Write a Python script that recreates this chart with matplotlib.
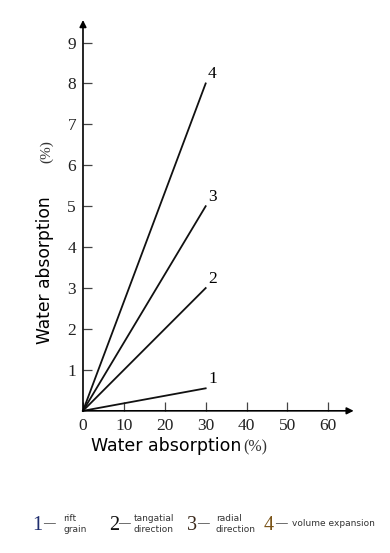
import matplotlib.pyplot as plt

# Data: straight lines from origin, end at 30 %
curve_ids = ["1", "2", "3", "4"]
x_pts = [0, 30]
y_end = [0.55, 3.0, 5.0, 8.0]

x_ticks = [0, 10, 20, 30, 40, 50, 60]
y_ticks = [1, 2, 3, 4, 5, 6, 7, 8, 9]

legend_nums = ["1", "2", "3", "4"]
legend_desc = ["rift\ngrain", "tangatial\ndirection", "radial\ndirection", "volume expansion"]
legend_cols = ["#1f2d6e", "#111111", "#3b2a1c", "#7a5418"]

SERIF = "Liberation Serif"
SANS = "DejaVu Sans"


def main():
    fig = plt.figure(figsize=(3.9, 5.53), dpi=100)
    ax = fig.add_axes([0.2128, 0.2571, 0.692, 0.703])
    ax.set_xlim(0, 66)
    ax.set_ylim(0, 9.5)

    for s in ax.spines.values():
        s.set_visible(False)

    # axes drawn as arrows
    ax.annotate("", xy=(66.2, 0), xytext=(0, 0), annotation_clip=False,
                arrowprops=dict(arrowstyle="-|>", lw=1.2, color="black", mutation_scale=10, shrinkA=0, shrinkB=0))
    ax.annotate("", xy=(0, 9.55), xytext=(0, 0), annotation_clip=False,
                arrowprops=dict(arrowstyle="-|>", lw=1.2, color="black", mutation_scale=10, shrinkA=0, shrinkB=0))

    ax.set_xticks(x_ticks)
    ax.set_xticklabels([str(v) for v in x_ticks], family=SERIF, fontsize=12.5, color="#222222")
    ax.set_yticks(y_ticks)
    ax.set_yticklabels([str(v) for v in y_ticks], family=SERIF, fontsize=12.5, color="#222222")
    ax.tick_params(axis="both", direction="in", length=6.5, width=0.9, color="#444444", pad=5)

    for cid, ye in zip(curve_ids, y_end):
        ax.plot(x_pts, [0, ye], color="#111111", lw=1.3, clip_on=False)
        ax.text(x_pts[-1] + 0.6, ye + 0.22, cid, family=SERIF, fontsize=12.5, ha="left", va="center")

    # axis titles
    fig.text(0.116, 1 - 270 / 553, "Water absorption", rotation=90, family=SANS, fontsize=12.3,
             ha="center", va="center")
    fig.text(0.120, 1 - 152 / 553, "(%)", rotation=90, family=SERIF, fontsize=11, ha="center", va="center",
             color="#333333")
    fig.text(91 / 390, 0.193, "Water absorption", family=SANS, fontsize=12.5, ha="left", va="center")
    fig.text(243 / 390, 0.191, "(%)", family=SERIF, fontsize=11.5, ha="left", va="center", color="#333333")

    # legend row at bottom
    num_x = [32, 109, 187, 264]
    dash_x = [43, 118, 197, 275]
    txt_x = [63, 134, 216, 292]
    y_leg = 1 - 525 / 553
    for n, d, c, nx, dx, tx in zip(legend_nums, legend_desc, legend_cols, num_x, dash_x, txt_x):
        fig.text(nx / 390, y_leg, n, family=SERIF, fontsize=14.5, color=c, ha="left", va="center")
        fig.text(dx / 390, y_leg + 0.004, "\u2014", family=SERIF, fontsize=8.5, color="#222222", ha="left", va="center")
        fig.text(tx / 390, y_leg + 0.002, d, family=SANS, fontsize=6.5, color="#333333", ha="left", va="center",
                 linespacing=1.3)

    fig.savefig("out.png", dpi=100)
    plt.close(fig)


if __name__ == "__main__":
    main()
